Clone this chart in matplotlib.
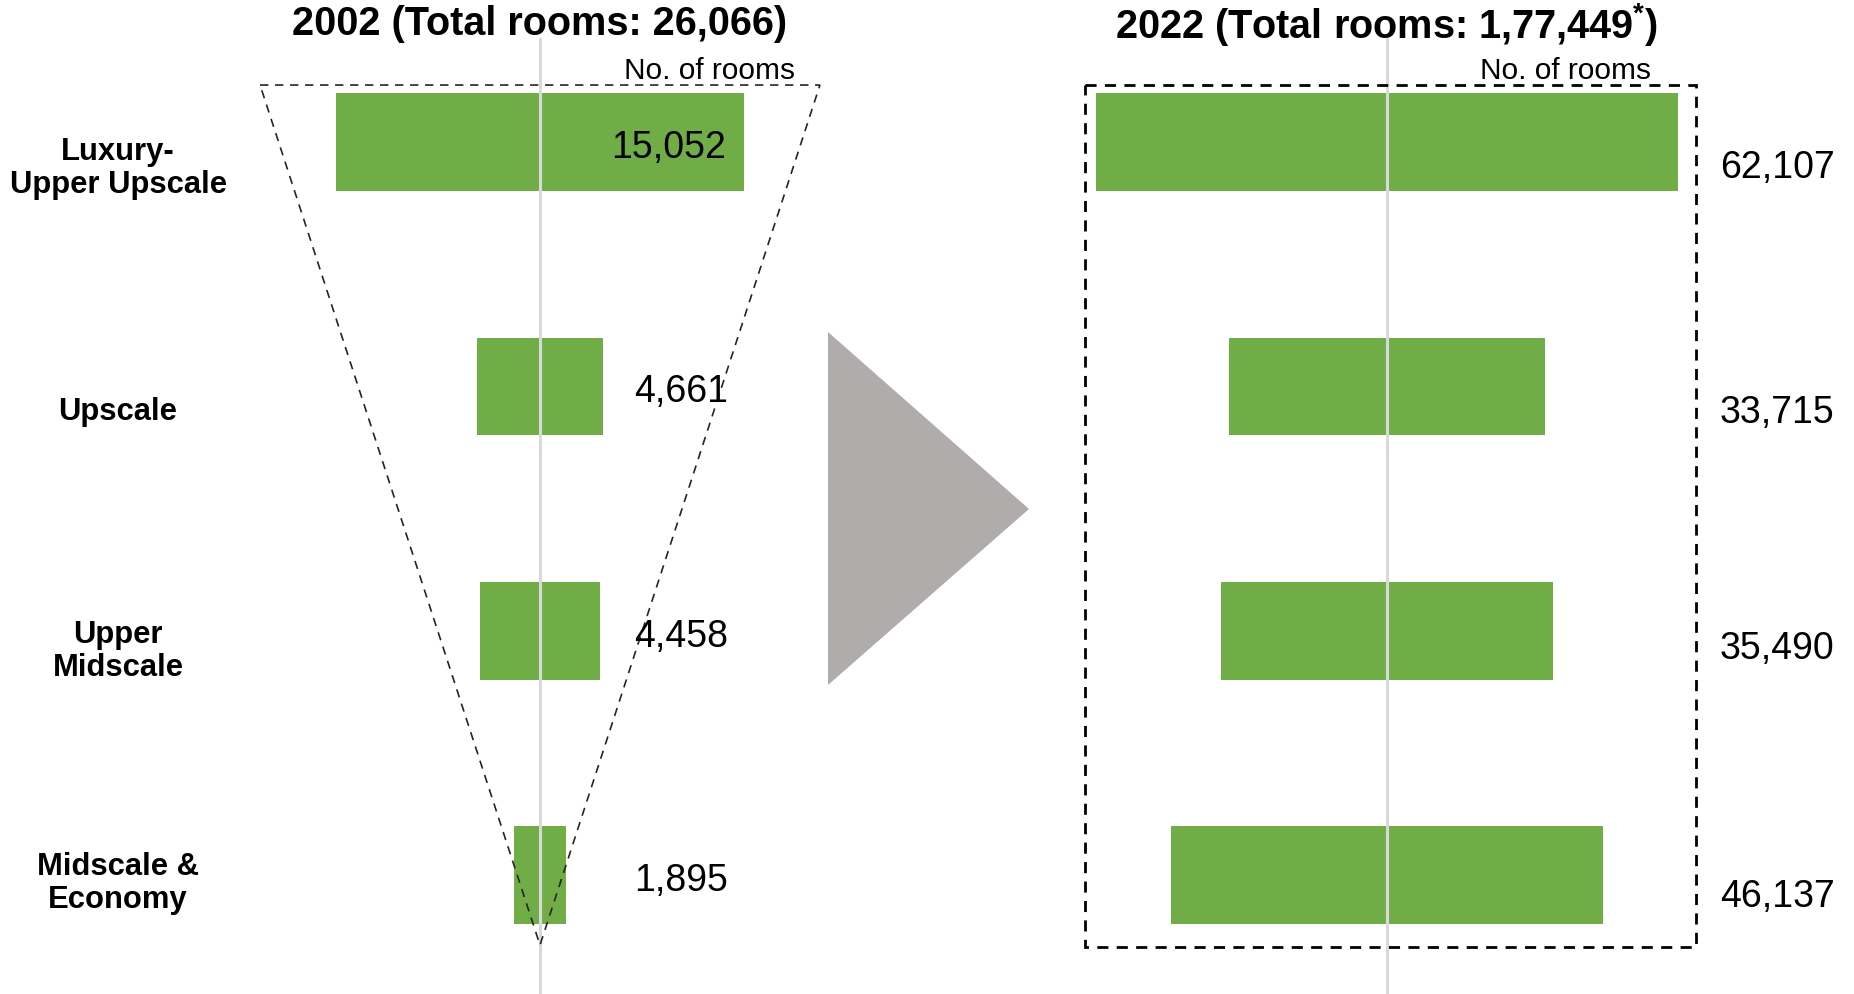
import matplotlib.pyplot as plt
from matplotlib.patches import Polygon, Rectangle
from matplotlib import transforms

categories = ['Luxury-\nUpper Upscale', 'Upscale', 'Upper\nMidscale', 'Midscale &\nEconomy']
rooms_2002 = [15052, 4661, 4458, 1895]
rooms_2022 = [62107, 33715, 35490, 46137]
title_2002 = '2002 (Total rooms: 26,066)'
title_2022 = '2022 (Total rooms: 1,77,449$^{*}$)'

# vertical nudges for the side labels (in row units)
cat_offsets = [0.105, 0.1, 0.08, 0.03]
right_offsets = [0.104, 0.104, 0.07, 0.087]

green = '#70AD47'
plt.rcParams['font.family'] = ['Liberation Sans', 'DejaVu Sans']
plt.rcParams['mathtext.fontset'] = 'custom'
plt.rcParams['mathtext.rm'] = 'Liberation Sans:bold'

W, H = 1854, 995
fig = plt.figure(figsize=(W / 100, H / 100), dpi=100)

ax1 = fig.add_axes([200 / W, 0, 680 / W, 1])
ax2 = fig.add_axes([1000 / W, 0, 774 / W, 1])

ylim = (3.486, -0.585)
ypos = list(range(len(categories)))
bar_h = 0.4

for ax, vals, half in ((ax1, rooms_2002, 12546), (ax2, rooms_2022, 41310)):
    ax.set_xlim(-half, half)
    ax.set_ylim(*ylim)
    ax.axis('off')
    # bars centred on zero
    ax.barh(ypos, vals, left=[-v / 2 for v in vals], height=bar_h,
            color=green, zorder=2)
    ax.axvline(0, ymin=0, ymax=0.96, color='#d9d9d9', lw=2.2, zorder=3)

# funnel outline for 2002
ax1.add_patch(Polygon([(-10330, -0.233), (10330, -0.233), (0, 3.286)],
                      closed=True, fill=False, ls=(0, (5, 4)), lw=1.2,
                      ec='#2b2222', zorder=4))
# box outline for 2022
ax2.add_patch(Rectangle((-32240, -0.233), 65220, 3.527, fill=False,
                        ls=(0, (4, 3)), lw=2.0, ec='black', zorder=4))

# value labels
for i, v in enumerate(rooms_2002):
    if i == 0:
        ax1.text(6863, i + 0.02, f'{v:,}', ha='right', va='center', fontsize=27, zorder=5)
    else:
        ax1.text(3469, i + 0.02, f'{v:,}', ha='left', va='center', fontsize=27, zorder=5)
for i, v in enumerate(rooms_2022):
    ax2.text(35550, i + right_offsets[i], f'{v:,}', ha='left', va='center', fontsize=27)

# titles and unit notes
ax1.text(0, -0.485, title_2002, ha='center', va='center', fontsize=28.5, fontweight='bold')
ax2.text(0, -0.485, title_2022, ha='center', va='center', fontsize=28.5, fontweight='bold')
ax1.text(9410, -0.295, 'No. of rooms', ha='right', va='center', fontsize=21.5)
ax2.text(28180, -0.295, 'No. of rooms', ha='right', va='center', fontsize=21.5)

# category names
trans = transforms.blended_transform_factory(fig.transFigure, ax1.transData)
for i, c in enumerate(categories):
    fig.text(118 / W, i + cat_offsets[i], c, transform=trans, ha='center', va='center',
             fontsize=22.3, fontweight='bold', linespacing=1.12)

# arrow between the two years
fig.patches.append(Polygon([(828 / W, 1 - 333 / H), (828 / W, 1 - 686 / H),
                            (1029 / W, 1 - 510 / H)], closed=True,
                           transform=fig.transFigure, fc='#AFACAB', ec='none'))

fig.savefig('out.png', dpi=100, facecolor='white')
